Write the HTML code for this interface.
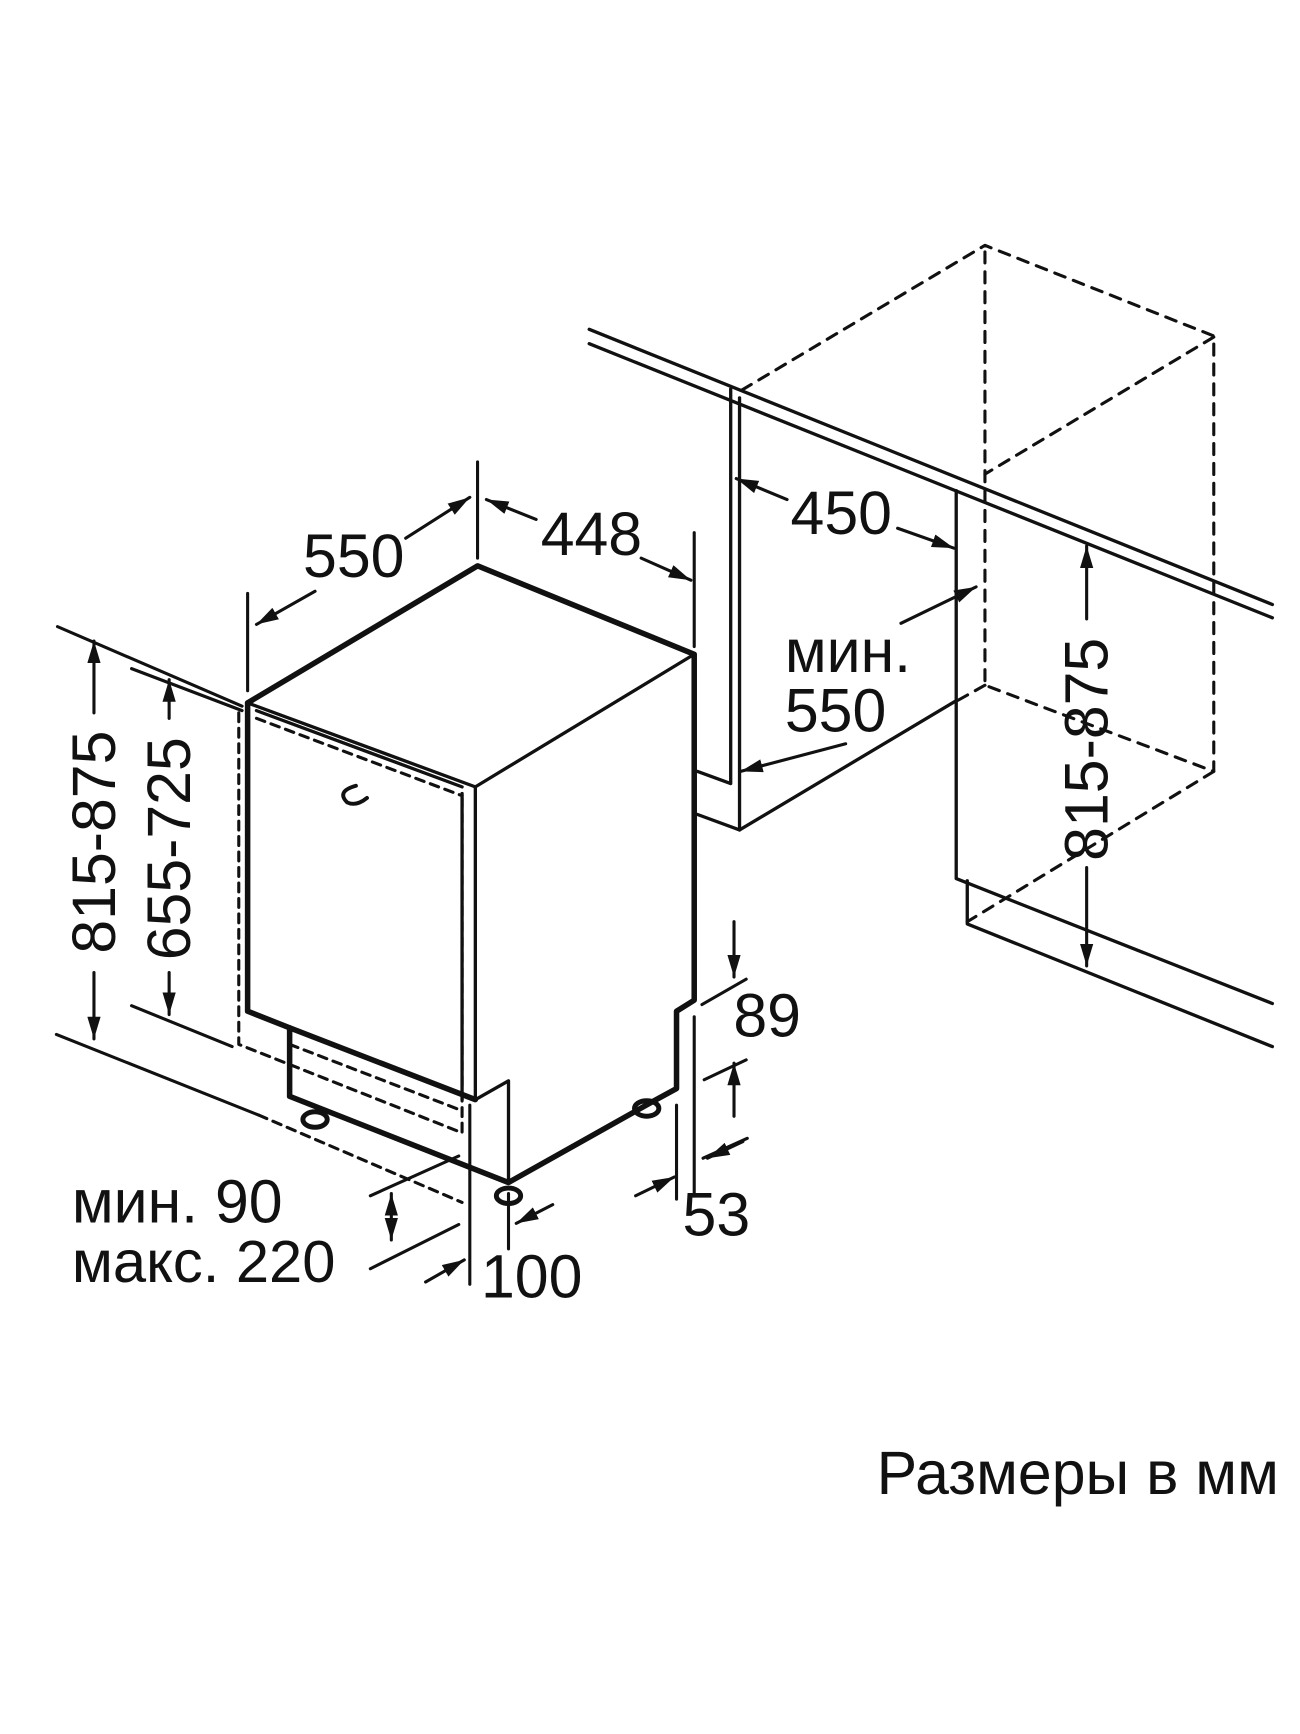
<!DOCTYPE html>
<html><head><meta charset="utf-8"><style>
html,body{margin:0;padding:0;background:#fff}
svg{display:block}
text{font-family:"Liberation Sans",Arial,sans-serif;fill:#111}
</style></head><body>
<svg width="1300" height="1734" viewBox="0 0 1176 1569" preserveAspectRatio="none" xmlns="http://www.w3.org/2000/svg">
<defs>
<marker id="a" viewBox="0 0 20 12" refX="20" refY="6" markerWidth="20" markerHeight="12" orient="auto-start-reverse" markerUnits="userSpaceOnUse"><path d="M0,0 L20,6 L0,12 Z" fill="#111"/></marker>
</defs>
<rect width="1176" height="1569" fill="#fff"/>
<g stroke="#111" fill="none" stroke-linecap="round" stroke-linejoin="round">
<g stroke-width="5">
<path d="M224,636 L432,512 L628,592 L628,905 L612,915 L612,985 L590,997 L460,1070 L262,992 L262,930"/>
<path d="M224,636 L224,915 L262,930 L430,995"/>
</g>
<g stroke-width="3">
<path d="M224,636 L430,712 L628,592"/>
<path d="M430,712 L430,995 L460,978 L460,1070"/>
<path d="M418,718 L418,995"/>
<path d="M232,643 L418,712"/>
</g>
<g stroke-width="2.8" stroke-dasharray="8,6">
<path d="M216,645 L216,945 L418,1025 L418,718"/>
<path d="M232,650 L418,720"/>
<path d="M262,945 L418,1005"/>
<path d="M234,1009 L418,1088"/>
</g>
<path d="M322,711 Q304,716 314,726 Q322,730 332,722" stroke-width="3.5"/>
<g stroke-width="4.5">
<ellipse cx="285" cy="1013" rx="11" ry="7"/>
<ellipse cx="460" cy="1082" rx="11" ry="7"/>
<ellipse cx="585" cy="1003" rx="11" ry="7"/>
</g>
<g stroke-width="2.8">
<path d="M432,418 L432,505"/>
<path d="M628,482 L628,585"/>
<path d="M224,537 L224,625"/>
<path d="M52,567 L219,639"/>
<path d="M119,605 L219,643"/>
<path d="M119,910 L210,947"/>
<path d="M51,936 L234,1009"/>
<path d="M635,909 L675,886"/>
<path d="M637,977 L675,959"/>
<path d="M628,920 L628,1080"/>
<path d="M612,1000 L612,1085"/>
<path d="M425,1000 L425,1162"/>
<path d="M460,1080 L460,1130"/>
<path d="M335,1082 L415,1046"/>
<path d="M335,1148 L415,1108"/>
<path d="M636,1048 L676,1030"/>
</g>
<g stroke-width="2.8" marker-end="url(#a)">
<path d="M285,535 L232,565"/>
<path d="M367,487 L425,450"/>
<path d="M485,470 L440,452"/>
<path d="M580,505 L625,525"/>
<path d="M85,645 L85,580"/>
<path d="M85,880 L85,940"/>
<path d="M153,650 L153,615"/>
<path d="M153,880 L153,918"/>
<path d="M664,834 L664,884"/>
<path d="M664,1010 L664,962"/>
<path d="M672,1033 L640,1048"/>
<path d="M575,1082 L610,1065"/>
<path d="M385,1160 L420,1140"/>
<path d="M500,1090 L467,1107"/>
<path d="M712,452 L666,433"/>
<path d="M812,478 L863,496"/>
<path d="M815,564 L883,531"/>
<path d="M765,673 L670,698"/>
<path d="M983,560 L983,494"/>
<path d="M983,785 L983,874"/>
</g>
<path d="M354,1080 L354,1122" stroke-width="2.8" marker-end="url(#a)" marker-start="url(#a)"/>
<g stroke-width="3">
<path d="M533,298 L1151,547"/>
<path d="M533,311 L1151,559"/>
<path d="M661,352 L661,709 L631,698"/>
<path d="M669,360 L669,751 L631,737"/>
<path d="M669,751 L865,634"/>
<path d="M865,444 L865,795 L1151,908"/>
<path d="M875,797 L875,836 L1151,947"/>
</g>
<g stroke-width="2.8" stroke-dasharray="10,8">
<path d="M671,353 L891,222 L1098,304 L1098,698 L891,620 L891,222"/>
<path d="M1098,305 L891,429"/>
<path d="M1098,698 L875,834"/>
<path d="M891,620 L866,634"/>
</g>
</g>
<g font-size="55">
<text x="320" y="522" text-anchor="middle">550</text>
<text x="535" y="502" text-anchor="middle">448</text>
<text x="761" y="483" text-anchor="middle">450</text>
<text x="710" y="608">мин.</text>
<text x="710" y="662">550</text>
<text x="694" y="938" text-anchor="middle">89</text>
<text x="648" y="1118" text-anchor="middle">53</text>
<text x="481" y="1174" text-anchor="middle">100</text>
<text x="65" y="1106" font-size="55">мин. 90</text>
<text x="65" y="1160" font-size="54">макс. 220</text>
<text transform="translate(104,762) rotate(-90)" text-anchor="middle">815-875</text>
<text transform="translate(172,768) rotate(-90)" text-anchor="middle">655-725</text>
<text transform="translate(1002,678) rotate(-90)" text-anchor="middle">815-875</text>
<text x="793" y="1352" font-size="55">Размеры в мм</text>
</g>
</svg>
</body></html>
